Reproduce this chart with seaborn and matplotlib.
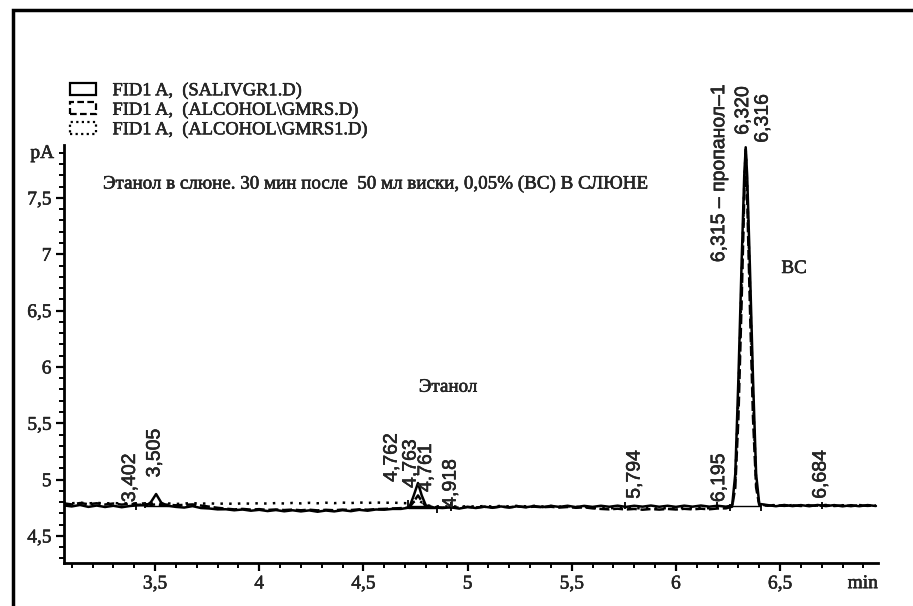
import numpy as np
import pandas as pd
import matplotlib
matplotlib.use("Agg")
import matplotlib.pyplot as plt
import matplotlib.patheffects as pe
from matplotlib.patches import Patch, Rectangle
from matplotlib.ticker import MultipleLocator
import seaborn as sns

# ---- data ----
time_min = [
    3.06, 3.10, 3.14, 3.18, 3.22, 3.26, 3.30, 3.34, 3.38, 3.42,
    3.46, 3.48, 3.505, 3.53, 3.56, 3.60, 3.64, 3.68, 3.72, 3.76,
    3.80, 3.84, 3.88, 3.92, 3.96, 4.00, 4.04, 4.08, 4.12, 4.16,
    4.20, 4.24, 4.28, 4.32, 4.36, 4.40, 4.44, 4.48, 4.52, 4.56,
    4.60, 4.64, 4.68, 4.72, 4.74, 4.762, 4.78, 4.80, 4.84, 4.88,
    4.92, 4.96, 5.00, 5.04, 5.08, 5.12, 5.16, 5.20, 5.24, 5.28,
    5.32, 5.36, 5.40, 5.44, 5.48, 5.52, 5.56, 5.60, 5.64, 5.68,
    5.72, 5.76, 5.80, 5.84, 5.88, 5.92, 5.96, 6.00, 6.04, 6.08,
    6.12, 6.16, 6.20, 6.24, 6.27, 6.285, 6.30, 6.315, 6.328, 6.335,
    6.342, 6.355, 6.37, 6.385, 6.40, 6.44, 6.48, 6.52, 6.56, 6.60,
    6.64, 6.68, 6.72, 6.76, 6.80, 6.84, 6.88, 6.92, 6.96,
]

salivgr1 = [
    4.772, 4.762, 4.775, 4.758, 4.770, 4.757, 4.768, 4.755, 4.766, 4.772,
    4.772, 4.800, 4.872, 4.795, 4.768, 4.758, 4.752, 4.765, 4.748, 4.744,
    4.736, 4.737, 4.728, 4.735, 4.724, 4.732, 4.721, 4.730, 4.719, 4.728,
    4.718, 4.727, 4.715, 4.726, 4.718, 4.729, 4.720, 4.732, 4.724, 4.735,
    4.733, 4.740, 4.740, 4.752, 4.850, 4.970, 4.860, 4.770, 4.752, 4.748,
    4.754, 4.743, 4.757, 4.748, 4.760, 4.750, 4.762, 4.752, 4.764, 4.755,
    4.765, 4.756, 4.767, 4.758, 4.768, 4.756, 4.767, 4.758, 4.768, 4.759,
    4.769, 4.758, 4.768, 4.760, 4.770, 4.759, 4.768, 4.758, 4.769, 4.760,
    4.770, 4.760, 4.768, 4.760, 4.770, 5.050, 5.900, 6.900, 7.700, 7.950,
    7.700, 6.900, 5.900, 5.050, 4.785, 4.774, 4.764, 4.775, 4.765, 4.774,
    4.764, 4.775, 4.765, 4.774, 4.763, 4.773, 4.764, 4.774, 4.766,
]

gmrs = [
    4.790, 4.780, 4.792, 4.782, 4.790, 4.779, 4.788, 4.778, 4.786, 4.776,
    4.782, 4.776, 4.780, 4.774, 4.778, 4.772, 4.776, 4.780, 4.770, 4.760,
    4.750, 4.742, 4.736, 4.740, 4.734, 4.738, 4.731, 4.735, 4.730, 4.734,
    4.728, 4.733, 4.727, 4.732, 4.728, 4.734, 4.730, 4.736, 4.733, 4.738,
    4.740, 4.744, 4.747, 4.752, 4.800, 4.860, 4.810, 4.762, 4.756, 4.752,
    4.757, 4.751, 4.758, 4.753, 4.759, 4.754, 4.760, 4.755, 4.761, 4.756,
    4.760, 4.755, 4.759, 4.752, 4.757, 4.750, 4.754, 4.745, 4.740, 4.736,
    4.742, 4.735, 4.740, 4.733, 4.739, 4.734, 4.740, 4.735, 4.741, 4.736,
    4.742, 4.737, 4.744, 4.745, 4.760, 4.930, 5.550, 6.550, 7.500, 7.930,
    7.500, 6.550, 5.550, 4.930, 4.775, 4.768, 4.773, 4.767, 4.772, 4.766,
    4.772, 4.767, 4.773, 4.766, 4.771, 4.765, 4.772, 4.767, 4.771,
]

gmrs1 = [
    4.795, 4.790, 4.796, 4.789, 4.794, 4.788, 4.793, 4.787, 4.792, 4.786,
    4.790, 4.786, 4.791, 4.785, 4.789, 4.784, 4.788, 4.792, 4.786, 4.790,
    4.785, 4.789, 4.784, 4.790, 4.786, 4.791, 4.787, 4.792, 4.788, 4.793,
    4.789, 4.794, 4.790, 4.795, 4.791, 4.796, 4.792, 4.797, 4.793, 4.797,
    4.794, 4.796, 4.792, 4.790, 4.800, 4.820, 4.798, 4.772, 4.765, 4.760,
    4.764, 4.759, 4.765, 4.760, 4.766, 4.761, 4.767, 4.762, 4.768, 4.763,
    4.767, 4.762, 4.766, 4.760, 4.764, 4.757, 4.761, 4.752, 4.748, 4.745,
    4.750, 4.744, 4.749, 4.743, 4.748, 4.742, 4.748, 4.744, 4.749, 4.745,
    4.750, 4.746, 4.752, 4.754, 4.765, 4.980, 5.750, 6.750, 7.600, 7.940,
    7.600, 6.750, 5.750, 4.980, 4.780, 4.770, 4.775, 4.769, 4.774, 4.768,
    4.774, 4.769, 4.775, 4.768, 4.773, 4.767, 4.774, 4.769, 4.773,
]

trace_names = [
    "FID1 A,  (SALIVGR1.D)",
    "FID1 A,  (ALCOHOL\\GMRS.D)",
    "FID1 A,  (ALCOHOL\\GMRS1.D)",
]

# retention time labels (rotated)
rt_labels = ["3,402", "3,505", "4,762", "4,763", "4,761", "4,918",
             "5,794", "6,195", "6,684", "6,320", "6,316",
             "6,315 – пропанол–1"]
rt_x = [3.382, 3.50, 4.638, 4.729, 4.803, 4.921,
        5.804, 6.21, 6.697, 6.325, 6.419, 6.21]
rt_y = [4.80, 5.02, 4.98, 4.926, 4.89, 4.75,
        4.83, 4.80, 4.83, 8.06, 7.99, 6.93]

# integrator event marks and baselines
event_t = [3.41, 3.45, 4.715, 4.853, 4.921, 5.756, 6.198, 6.26, 6.41, 6.70]
event_lo = [4.73, 4.75, 4.74, 4.70, 4.72, 4.74, 4.74, 4.72, 4.72, 4.74]
event_hi = [4.80, 4.80, 4.82, 4.77, 4.80, 4.80, 4.80, 4.78, 4.78, 4.80]

integ_start = [3.45, 4.715, 4.715, 4.72, 6.26]
integ_end = [3.56, 4.853, 4.84, 4.83, 6.41]
integ_level = [4.770, 4.745, 4.755, 4.762, 4.766]

xticks = [3.5, 4, 4.5, 5, 5.5, 6, 6.5]
xtick_labels = ["3,5", "4", "4,5", "5", "5,5", "6", "6,5"]
yticks = [4.5, 5, 5.5, 6, 6.5, 7, 7.5]
ytick_labels = ["4,5", "5", "5,5", "6", "6,5", "7", "7,5"]

title_text = "Этанол в слюне. 30 мин после  50 мл виски, 0,05% (ВС) В СЛЮНЕ"

# ---- figure ----
sns.set_style("ticks")
plt.rcParams["font.family"] = ["Liberation Serif", "DejaVu Serif"]

# printed look: thicken glyphs a little
ink = [pe.withStroke(linewidth=0.35, foreground="black")]

fig = plt.figure(figsize=(9.13, 6.06), dpi=100)
ax = fig.add_axes([64 / 913, 1 - 563 / 606, (878 - 64) / 913, (563 - 145) / 606])

n = len(time_min)
df = pd.DataFrame({
    "t": time_min * 3,
    "pA": salivgr1 + gmrs + gmrs1,
    "trace": [trace_names[0]] * n + [trace_names[1]] * n + [trace_names[2]] * n,
})
dash_map = {trace_names[0]: "", trace_names[1]: (4, 1.5), trace_names[2]: (1, 2.5)}
sns.lineplot(data=df, x="t", y="pA", style="trace", dashes=dash_map,
             color="black", estimator=None, sort=False, legend=False,
             linewidth=1.8, ax=ax)

ax.hlines(integ_level, integ_start, integ_end, color="black", linewidth=1.0)
ax.vlines(event_t, event_lo, event_hi, color="black", linewidth=1.3)

ax.set_xlim(3.063, 6.97)
ax.set_ylim(4.26, 7.97)
ax.set_xticks(xticks)
ax.set_xticklabels(xtick_labels)
ax.set_yticks(yticks)
ax.set_yticklabels(ytick_labels)
ax.xaxis.set_minor_locator(MultipleLocator(0.1))
ax.yaxis.set_minor_locator(MultipleLocator(0.1))
ax.tick_params(which="major", length=6, width=1.6, labelsize=14, pad=3, color="black")
ax.tick_params(which="minor", length=3.5, width=1.4, color="black")
for lab in ax.get_xticklabels() + ax.get_yticklabels():
    lab.set_path_effects(ink)
ax.set_xlabel("")
ax.set_ylabel("")
sns.despine(ax=ax)
for side in ["left", "bottom"]:
    ax.spines[side].set_linewidth(2)
    ax.spines[side].set_color("black")

for lab, x, y in zip(rt_labels, rt_x, rt_y):
    ax.text(x, y, lab, rotation=90, ha="center", va="bottom", fontsize=14,
            family=["Liberation Sans", "DejaVu Sans"], clip_on=False,
            path_effects=ink)

ax.text(3.25, 7.624, title_text, ha="left", va="center", fontsize=13.7, path_effects=ink)
ax.text(4.906, 5.82, "Этанол", ha="center", va="center", fontsize=13.7, path_effects=ink)
ax.text(6.567, 6.874, "ВС", ha="center", va="center", fontsize=13.7, path_effects=ink)
ax.text(-0.012, 1.0, "pA", transform=ax.transAxes, ha="right", va="top", fontsize=14,
        path_effects=ink)
ax.text(1.0, -0.029, "min", transform=ax.transAxes, ha="right", va="top", fontsize=14,
        path_effects=ink)

handles = [
    Patch(facecolor="white", edgecolor="black", linestyle="-", linewidth=1.6),
    Patch(facecolor="white", edgecolor="black", linestyle=(0, (3, 1.5)), linewidth=1.6),
    Patch(facecolor="white", edgecolor="black", linestyle=(0, (1, 1.5)), linewidth=1.6),
]
leg = fig.legend(handles, trace_names, loc="upper left",
                 bbox_to_anchor=(70 / 913, 1 - 82 / 606),
                 frameon=False, fontsize=13.3, handlelength=1.4, handleheight=0.6,
                 handletextpad=0.9, labelspacing=0.12, borderpad=0, borderaxespad=0)
for t in leg.get_texts():
    t.set_path_effects(ink)

fig.patches.append(Rectangle((13 / 913, -0.1), 1.2, 1 - 10 / 606 + 0.1,
                             transform=fig.transFigure, fill=False,
                             edgecolor="black", linewidth=2.5))

fig.savefig("out.png", dpi=100)
